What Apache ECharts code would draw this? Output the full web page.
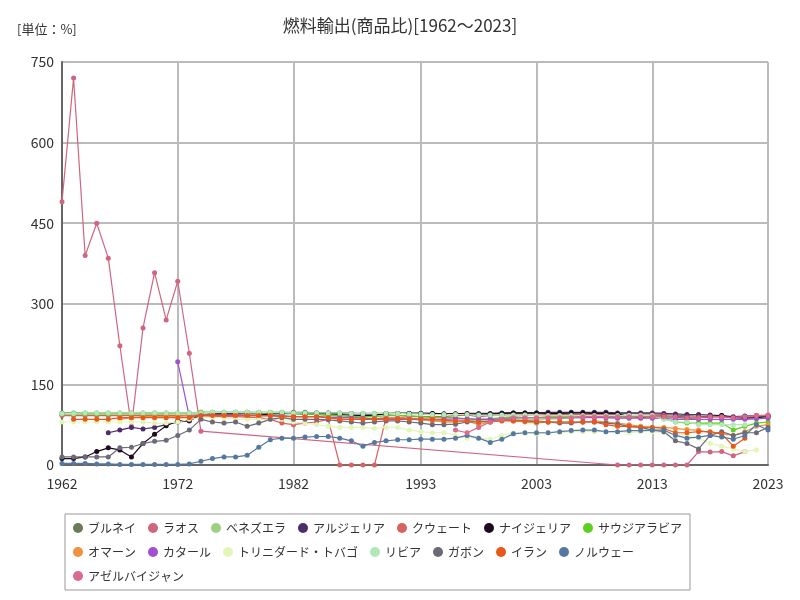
<!DOCTYPE html>
<html><head><meta charset="utf-8">
<script src="https://cdn.jsdelivr.net/npm/echarts@6/dist/echarts.min.js"></script>
<style>html,body{margin:0;padding:0;background:#fff}#chart{width:800px;height:600px}</style>
</head><body><div id="chart"></div>
<script>
var years = [];
for (var y = 1962; y <= 2023; y++) years.push(String(y));
var labelIdx = [0, 10, 20, 31, 41, 51, 61];

var brunei = [97,97,97,97,97,97,97,97,97,97, 97,97,98,98,98,98,98,98,98,98, 98,98,97,97,97,96,96,96,96,96, 96,96,96,95,95,95,94,95,96,96, 96,96,96,96,97,97,97,96,96,96, 96,95,94,93,92,91,90,90,88,89, 90,91];
var laos = [490,720,390,450,385,222,72,255,358,270, 342,208,63,
  null,null,null,null,null,null,null,null,null,null,null,null,null,null,null,null,null,null,null,null,null,null,null,null,null,null,null,null,null,null,null,null,null,null,null,
  0,0,0,0,0,0,0,25,24,25,17,25,null,null];
var venezuela = [93,93,93,93,93,93,93,93,93,93, 93,94,95,95,95,95,95,95,95,95, 95,95,94,92,90,88,88,86,88,88, 86,84,84,80,80,82,84,80,85,87, 85,85,86,86,88,88,90,92,92,92, 92,92,90,88,86,88,null,null,null,null, null,null];
var algeria = [null,null,null,null,60,65,70,67,70,75, 80,82,93,95,96,96,97,97,97,97, 97,97,97,97,96,96,95,95,96,96, 96,96,95,95,95,96,96,96,97,97, 97,97,98,98,98,98,98,98,97,97, 97,97,96,95,94,94,93,92,90,91, 92,92];
var kuwait = [92,92,92,92,92,92,92,92,92,92, 92,92,92,91,90,90,89,88,85,78, 75,78,80,85,0,0,0,0,88,88, 90,90,90,90,92,93,90,92,93,94, 93,93,94,94,94,94,94,94,93,92, 93,93,92,90,89,89,90,89,88,89, 92,93];
var nigeria = [12,12,15,25,32,28,15,40,57,73, 82,83,93,94,94,93,92,93,95,96, 96,95,96,95,94,93,92,93,95,96, 96,96,96,95,95,95,94,95,96,97, 97,97,96,96,97,97,96,96,95,90, 88,89,90,90,88,88,90,92,88,87, 88,90];
var saudi = [95,95,95,95,95,95,95,95,95,95, 96,97,98,98,98,98,98,97,97,97, 96,95,94,93,92,90,90,90,92,92, 92,90,88,88,88,86,85,86,88,90, 88,88,90,90,90,90,90,88,88,88, 90,88,86,80,78,78,78,78,65,72, 78,80];
var oman = [null,null,null,null,null,85,88,90,90,90, 90,92,94,93,93,92,92,92,92,91, 90,90,90,89,88,88,87,86,88,88, 86,84,82,80,80,82,75,80,84,82, 80,78,80,80,80,80,82,80,78,75, 72,70,70,68,66,65,60,58,55,62, 72,75];
var qatar = [null,null,null,null,null,null,null,null,null,null, 192,90,93,93,93,93,93,92,92,92, 90,90,90,88,88,88,87,86,86,86, 86,86,85,85,86,86,85,85,86,88, 88,88,88,88,88,88,88,88,87,87, 87,87,87,85,85,85,85,85,85,85, 86,87];
var trinidad = [80,80,80,80,80,80,80,80,78,78, 80,85,88,88,88,85,85,85,85,85, 80,78,75,72,70,70,70,68,70,70, 65,62,60,60,55,50,50,48,55,60, 60,58,60,60,62,62,62,62,62,60, 62,62,60,58,55,50,40,35,30,25, 28,null];
var libya = [96,96,97,97,97,97,97,97,97,97, 97,97,97,98,98,98,98,98,98,98, 97,97,97,97,97,96,96,96,96,96, 95,95,94,94,94,94,93,93,93,93, 93,92,92,92,92,92,92,92,92,92, 92,92,85,80,80,75,75,75,75,75, null,null];
var gabon = [15,15,15,15,15,32,33,40,44,46, 55,65,85,80,78,80,72,78,85,88, 85,85,85,84,82,80,78,80,82,82, 80,78,75,75,76,80,80,82,84,84, 82,80,80,78,78,80,80,78,76,72, 70,65,62,45,40,30,55,62,55,60, 60,70];
var iran = [null,85,85,85,85,88,88,88,88,88, 88,88,92,92,92,92,92,92,92,90, 90,90,90,88,85,85,85,85,85,85, 85,85,85,83,82,82,80,80,82,82, 82,82,80,80,80,80,80,75,72,72, 70,70,68,60,60,62,62,58,35,50, null,null];
var norway = [3,3,3,2,2,1,1,1,1,1, 1,2,7,12,15,15,18,33,47,50, 50,52,53,53,50,45,35,42,45,47, 47,48,48,48,50,55,50,42,48,58, 60,60,60,62,64,65,65,62,62,64, 64,65,65,55,50,52,55,52,48,55, 75,65];
var azerbaijan = [null,null,null,null,null,null,null,null,null,null,null,null,null,null,null,null,null,null,null,null,null,null,null,null,null,null,null,null,null,null,null,null,null,null,
  65,60,70,80,85,88, 88,88,88,88,88,90,90,90,90,90, 90,90,90,90,88,88,90,90,88,90, 92,92];

var seriesDefs = [
  ['ブルネイ', brunei, '#6b7a58'],
  ['ラオス', laos, '#d0657f'],
  ['ベネズエラ', venezuela, '#9fd07f'],
  ['アルジェリア', algeria, '#4b2d6b'],
  ['クウェート', kuwait, '#d86262'],
  ['ナイジェリア', nigeria, '#1e0a1e'],
  ['サウジアラビア', saudi, '#5cd020'],
  ['オマーン', oman, '#f09040'],
  ['カタール', qatar, '#a050d0'],
  ['トリニダード・トバゴ', trinidad, '#e4f5b8'],
  ['リビア', libya, '#b0e8b8'],
  ['ガボン', gabon, '#6a6a78'],
  ['イラン', iran, '#e8581a'],
  ['ノルウェー', norway, '#5578a0'],
  ['アゼルバイジャン', azerbaijan, '#d96a8c']
];

var chart = echarts.init(document.getElementById('chart'));
chart.setOption({
  textStyle: {fontFamily: 'Noto Sans CJK JP'},
  title: [
    {text: '燃料輸出(商品比)[1962～2023]', left: 'center', top: 12, textStyle: {fontSize: 17, fontWeight: 'normal', color: '#333'}},
    {text: '[単位：%]', left: 12, top: 18, textStyle: {fontSize: 13, fontWeight: 'normal', color: '#333'}}
  ],
  grid: {left: 62, right: 32, top: 62, bottom: 135},
  legend: {
    bottom: 10, left: 65, width: 680, icon: 'circle', itemWidth: 10, itemHeight: 10, itemGap: 12,
    borderColor: '#999', borderWidth: 1, padding: [8, 8],
    textStyle: {fontSize: 12, color: '#333'}
  },
  xAxis: {
    type: 'category', data: years, boundaryGap: false,
    axisLine: {lineStyle: {color: '#666', width: 2}},
    axisTick: {show: false},
    axisLabel: {interval: function (i) { return labelIdx.indexOf(i) >= 0; }, fontSize: 14, color: '#333', margin: 12},
    splitLine: {show: true, interval: function (i) { return labelIdx.indexOf(i) >= 0; }, lineStyle: {color: '#bbb', width: 2}}
  },
  yAxis: {
    type: 'value', min: 0, max: 750, interval: 150,
    axisLine: {show: true, lineStyle: {color: '#666', width: 2}},
    axisLabel: {fontSize: 14, color: '#333'},
    splitLine: {lineStyle: {color: '#bbb', width: 2}}
  },
  series: seriesDefs.map(function (d) {
    return {name: d[0], type: 'line', data: d[1], connectNulls: true, color: d[2],
      symbol: 'circle', symbolSize: 5, lineStyle: {width: 1.2}};
  })
});
</script></body></html>
